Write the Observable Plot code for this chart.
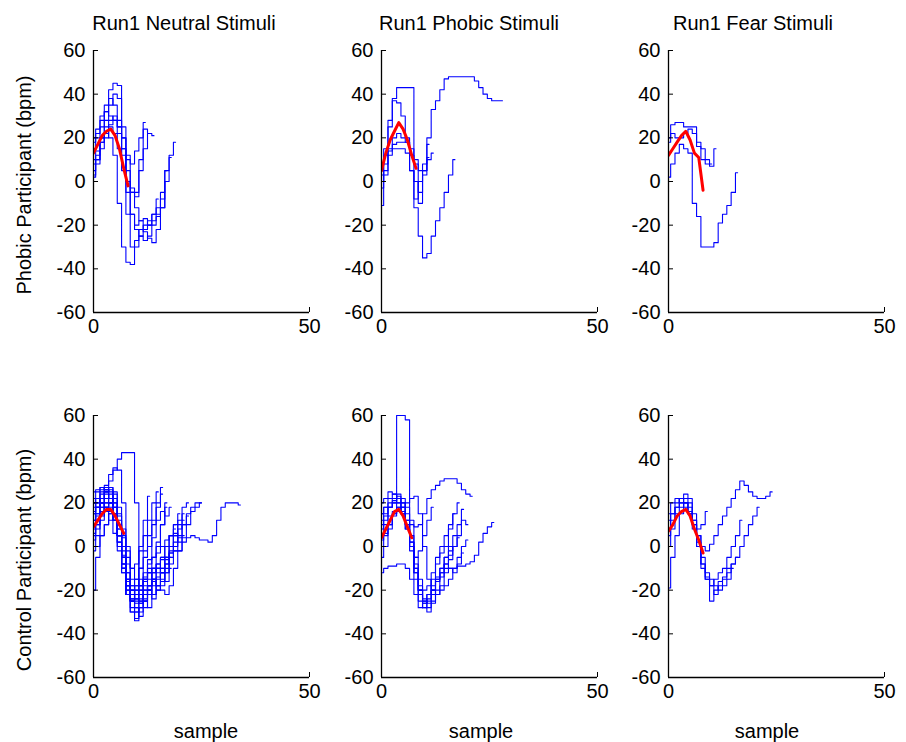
<!DOCTYPE html>
<html><head><meta charset="utf-8">
<script src="https://cdn.jsdelivr.net/npm/d3@7"></script>
<script src="https://cdn.jsdelivr.net/npm/@observablehq/plot@0.6"></script>
<style>
body{margin:0;background:#fff;}
#chart{position:relative;width:906px;height:742px;background:#fff;font-family:"Liberation Sans",Arial,sans-serif;overflow:hidden;}
.lbl{position:absolute;font-size:20px;color:#000;white-space:nowrap;transform:translate(-50%,-50%);}
.rot{transform:translate(-50%,-50%) rotate(-90deg);}
.panel{position:absolute;}
</style></head><body><div id="chart"></div>
<script>
// ---------- text ----------
const runTitles = ["Run1 Neutral Stimuli", "Run1 Phobic Stimuli", "Run1 Fear Stimuli"];
const rowLabels = ["Phobic Participant (bpm)", "Control Participant (bpm)"];
const xLabel = "sample";
const xTicks = [0, 50];
const yTicks = [-60, -40, -20, 0, 20, 40, 60];

// ---------- trials (bpm per sample, sample = index) ----------
const phobicNeutral = [
  [3, 10, 20, 32, 42, 45, 44, 20, -15, -30, -27, -22, -20, -18, -15, -12, -5, 5, 12, 18],
  [5, 10, 18, 22, 20, 12, -10, -30, -37, -38, -30, -25, -22, -20, -18, -16, -12, 0, 11],
  [15, 20, 28, 35, 38, 35, 28, 15, 0, -15, -20, -18, -17, -20, -15, -8],
  [10, 14, 20, 25, 28, 30, 25, 15, 5, -5, -7, 5, 15, 22, 21],
  [20, 24, 30, 32, 30, 28, 22, 12, 0, -3, -5, 10, 27],
  [2, 8, 15, 20, 25, 22, 15, 5, -5, -15, -22, -25, -27, -25, -20, -15, -8, 0],
  [8, 12, 18, 22, 26, 28, 25, 20, 12, 8, 14, 20, 24, 22],
  [18, 22, 25, 28, 35, 40, 38, 25, 10, -5, -12, -18, -23, -26, -28, -22, -12, 5]
];
const phobicPhobic = [
  [0, 15, 28, 38, 43, 43, 43, 43, 10, -10, 3, 20, 33, 37, 42, 47, 48, 48, 48, 48, 48, 48, 46, 43, 40, 38, 37, 37, 37],
  [-11, 5, 25, 37, 36, 30, 20, 5, -12, -25, -35, -33, -25, -18, -12, -5, 3, 10],
  [3, 8, 15, 20, 22, 20, 18, 12, 8, 5, 8, 17],
  [8, 12, 14, 15, 15, 15, 13, 5, -8, 0, 5, 11],
  [-3, 3, 12, 17, 18, 18, 18, 15, 0, -5, 5, 10, 13]
];
const phobicFear = [
  [18, 26, 27, 27, 25, 25, 25, 16, 10, 8, 7, 15],
  [2, 8, 13, 17, 15, 13, -10, -16, -30, -30, -30, -28, -19, -15, -11, -5, 4],
  [20, 22, 20, 20, 22, 24, 22, 18, 15, 10, 8]
];
const controlNeutral = [
  [-20, -5, 5, 10, 15, 18, 10, -5, -15, -20, -18, -10, -5, 0, 10, 20, 27],
  [10, 15, 20, 25, 30, 35, 40, 43, 43, 43, 20, -10, -25, -28, -22, -15, -10, -5],
  [12, 18, 22, 28, 33, 36, 35, 20, 0, -15, -22, -25, -22, -18, -10, 0, 10, 20],
  [15, 20, 25, 27, 27, 20, 8, -5, -20, -30, -34, -30, -25, -20, -15, -10, -5, 0, 5, 10],
  [5, 10, 18, 22, 22, 15, 5, -10, -22, -28, -30, -25, -20, -15, -15, -18, -18, -12, -5, -2, -2, 2, 4, 5, 4, 3, 3, 2, 5, 12, 18, 20, 20, 20, 19],
  [20, 25, 27, 26, 22, 15, 5, -8, -18, -22, -20, -18, -15, -12, -10, -8, -6, -5, -3, 0, 5, 10, 15, 18, 20, 20],
  [0, 5, 12, 18, 20, 12, 0, -12, -22, -25, -15, 0, 12, 23],
  [25, 26, 27, 26, 20, 12, 2, -10, -18, -22, -25, -20, -15, -12, -15, -20, -16, -10, -5],
  [18, 20, 22, 24, 22, 15, 5, -10, -22, -30, -33, -28, -22, -18, -12, -10, -12, -8, -2, 5, 10, 15],
  [10, 12, 15, 20, 22, 25, 18, 8, -2, -10, -15, -18, -15, -10, -5, 2, 10, 18],
  [3, 8, 15, 20, 18, 12, 2, -10, -18, -25, -28, -26, -24, -20, -15, -10, -5, 0, 5, 10, 15],
  [22, 22, 20, 18, 16, 12, 5, -5, -12, -18, -22, -20, -18, -20, -22, -18, -12, -8, -3, 2, 8, 12],
  [8, 12, 20, 25, 27, 22, 12, 0, -12, -20, -18, -10, -2, 5, 12, 18, 24],
  [15, 18, 20, 16, 12, 6, -2, -12, -22, -25, -22, -18, -14, -12, -10, -12, -15, -12, -8, -2, 4, 10, 14],
  [-2, 0, 5, 10, 15, 12, 5, -8, -20, -24, -20, -15, -12, -8, -5, -3, 0, 3, 5, 8],
  [20, 22, 26, 27, 22, 15, 8, -5, -15, -22, -28, -32, -28, -22, -18, -14, -10, -5, 0, 5, 12, 18, 20],
  [12, 15, 18, 22, 24, 24, 15, 5, -5, -10, -8, -2, 5, 12, 20, 25],
  [6, 10, 14, 18, 20, 15, 5, -8, -18, -24, -26, -24, -20, -18, -16, -18, -20, -22, -18, -10, -2, 5],
  [16, 18, 24, 26, 25, 18, 10, -2, -15, -25, -30, -28, -25, -18, -12, -8, -12, -16, -10],
  [10, 14, 16, 18, 20, 18, 10, -4, -16, -20, -24, -22, -16, -6, 4, 12, 16, 14, 18],
  [20, 18, 22, 25, 26, 20, 14, 4, -8, -18, -24, -26, -22, -20, -24, -20, -12, -6, 0, 6, 2, 4, 10, 16, 18, 20]
];
const controlPhobic = [
  [10, 14, 18, 21, 60, 60, 58, 12, 9, 10, 15, 22, 26, 28, 30, 31, 31, 31, 29, 26, 24, 23],
  [-12, -10, -9, -9, -8, -8, -10, -15, -22, -28, -26, -22, -18, -14, -12, -10, -10, -10, -9, -9, -8, -7, -4, 2, 6, 9, 11],
  [15, 18, 22, 24, 22, 18, 10, 0, -10, -20, -25, -22, -15, -8, -3, 0, 8, 15, 20],
  [5, 12, 18, 20, 24, 20, 12, 0, -15, -25, -28, -25, -20, -15, -10, -5, -2, 0, 5, 17],
  [0, 5, 10, 15, 18, 15, 8, -2, -12, -20, -25, -28, -25, -20, -14, -8, -4, 0],
  [20, 22, 25, 24, 20, 15, 8, 2, -5, -2, 5, 12, 18],
  [12, 15, 18, 20, 22, 20, 15, 5, -8, -18, -24, -26, -22, -15, -10, -5, 0, 5, 10, 12, 10],
  [8, 10, 14, 16, 18, 16, 10, 0, -12, -22, -28, -30, -26, -22, -20, -18, -15, -10, -5, 0, 3],
  [-5, 0, 8, 15, 20, 18, 12, 2, -10, -20, -26, -24, -20, -16, -12, -8, -10, -12, -8, -3],
  [15, 18, 20, 22, 23, 22, 18, 10, -5, -15, -20, -18, -12, -5, 0, 5, 10, 15],
  [3, 6, 10, 14, 16, 18, 20, 22, 23, 15, 0, -15, -20, -22, -18, -12, -6, 0, 4]
];
const controlFear = [
  [5, 12, 18, 22, 24, 22, 15, 5, 0, -2, 1, 5, 10, 14, 18, 22, 26, 30, 28, 25, 23, 22, 22, 23, 25],
  [-19, -5, 5, 15, 22, 20, 12, 5, -5, -15, -25, -20, -16, -14, -12, -8, -5, 0, 5, 10, 14, 18],
  [8, 15, 20, 22, 20, 15, 8, 0, -8, -14, -18, -15, -12, -10, -5, 0, 5, 12],
  [15, 20, 22, 20, 18, 15, 10, 8, 10, 16],
  [0, 8, 15, 18, 20, 18, 12, 2, -8, -15, -18, -22, -18, -15, -10, -8, -5],
  [12, 15, 18, 20, 20, 16, 10, 0, -10, -12, -15, -18, -20, -18, -15, -10]
];

// ---------- means (red) ----------
const phobicNeutralMean = [13, 17, 21, 23, 24, 21, 15, 6, -2];
const phobicPhobicMean  = [5, 13, 19, 23, 27, 24, 19, 12, 6];
const phobicFearMean    = [12, 15, 18, 21, 23, 19, 13, 11, -4];
const controlNeutralMean = [9, 12, 15, 17, 17, 14, 10, 6];
const controlPhobicMean  = [4, 8, 12, 16, 17, 14, 9, 4];
const controlFearMean    = [7, 10, 14, 16, 17, 14, 8, 3, -3];

const trialsGrid = [[phobicNeutral, phobicPhobic, phobicFear], [controlNeutral, controlPhobic, controlFear]];
const meansGrid = [[phobicNeutralMean, phobicPhobicMean, phobicFearMean], [controlNeutralMean, controlPhobicMean, controlFearMean]];

// ---------- layout ----------
const chart = document.getElementById("chart");
const colLeft = [93, 381, 668];
const rowTop = [50, 415];
const fw = 216, fh = 262;
const ml = 60, mr = 20, mt = 12, mb = 40;
const font = '"Liberation Sans", Arial, sans-serif';

for (let r = 0; r < 2; r++) {
  for (let c = 0; c < 3; c++) {
    const rows = trialsGrid[r][c].flatMap((ys, i) => ys.map((y, x) => ({trial: i, x, y})));
    const mean = meansGrid[r][c].map((y, x) => ({x, y}));
    const svg = Plot.plot({
      width: fw + ml + mr, height: fh + mt + mb,
      marginLeft: ml, marginRight: mr, marginTop: mt, marginBottom: mb,
      x: {domain: [0, 50]}, y: {domain: [-60, 60]},
      style: {background: "transparent", overflow: "visible", fontSize: "20px", fontFamily: font, color: "#000"},
      marks: [
        Plot.line(rows, {x: "x", y: "y", z: "trial", stroke: "#0000ff", strokeWidth: 1.1, curve: "step", clip: true}),
        Plot.line(mean, {x: "x", y: "y", stroke: "#ff0000", strokeWidth: 3, clip: true}),
        Plot.ruleX([0], {stroke: "#000", strokeWidth: 1.3}),
        Plot.ruleY([-60], {stroke: "#000", strokeWidth: 1.3}),
        Plot.axisY({ticks: yTicks, tickSize: 5, dx: 5, fill: "none", label: null}),
        Plot.axisY({ticks: yTicks, tickSize: 0, tickPadding: 8, tickFormat: d => String(d), label: null}),
        Plot.axisX({ticks: xTicks, tickSize: 5, dy: -5, fill: "none", label: null}),
        Plot.axisX({ticks: xTicks, tickSize: 0, tickPadding: 6, tickFormat: d => String(d), label: null})
      ]
    });
    svg.classList.add("panel");
    svg.style.position = "absolute";
    svg.style.left = (colLeft[c] - ml) + "px";
    svg.style.top = (rowTop[r] - mt) + "px";
    svg.style.maxWidth = "none";
    chart.appendChild(svg);
  }
}

function addLabel(text, x, y, rotate) {
  const d = document.createElement("div");
  d.className = "lbl" + (rotate ? " rot" : "");
  d.textContent = text;
  d.style.left = x + "px";
  d.style.top = y + "px";
  chart.appendChild(d);
}
const titleX = [184, 469, 753];
runTitles.forEach((t, i) => addLabel(t, titleX[i], 23));
addLabel(rowLabels[0], 24, 185, true);
addLabel(rowLabels[1], 24, 560, true);
const sampleX = [206, 481, 767];
sampleX.forEach(x => addLabel(xLabel, x, 731));
</script></body></html>
